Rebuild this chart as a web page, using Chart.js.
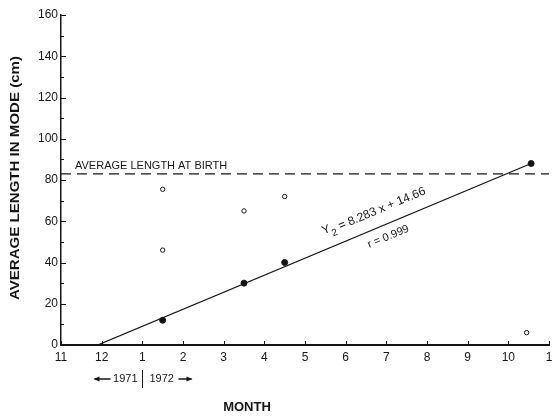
<!DOCTYPE html>
<html>
<head>
<meta charset="utf-8">
<script src="https://cdn.jsdelivr.net/npm/chart.js@4/dist/chart.umd.min.js"></script>
<style>
  html, body { margin: 0; padding: 0; background: #fff; }
  #wrap { width: 554px; height: 416px; }
</style>
</head>
<body>
<div id="wrap"><canvas id="growth-chart" width="554" height="416"></canvas></div>
<script>
// Month axis: 0 = start of November 1971, one unit per month
const monthLabels = ['11', '12', '1', '2', '3', '4', '5', '6', '7', '8', '9', '10', '1'];
const yTicks = [0, 20, 40, 60, 80, 100, 120, 140, 160];

// Modal lengths (cm)
const closedX = [2.5, 4.5, 5.5, 11.56];
const closedY = [12, 30, 40, 88];
const openX = [2.5, 2.5, 4.5, 5.5, 11.45];
const openY = [75.5, 46, 65, 72, 6];

// Fitted line Y2 = 8.283 x + 14.66, drawn between its visible ends
const fitX = [0.9, 11.56];
const fitY = [0, 88];

const birthLength = 83;

const INK = '#151515';
const FONT = '"Liberation Sans", Arial, sans-serif';

const toPoints = (xs, ys) => xs.map((x, i) => ({ x: x, y: ys[i] }));

// Draws inward tick marks, the labels along the fit and the year marker
const decorations = {
    id: 'decorations',
    afterDraw(chart) {
        const ctx = chart.ctx;
        const xs = chart.scales.x;
        const ys = chart.scales.y;
        const area = chart.chartArea;
        ctx.save();
        ctx.strokeStyle = INK;
        ctx.fillStyle = INK;
        ctx.lineWidth = 1;

        // y ticks pointing into the plot, minor every 10
        for (let v = 0; v <= 160; v += 10) {
            const py = Math.round(ys.getPixelForValue(v)) + 0.5;
            const len = v % 20 === 0 ? 5 : 3;
            ctx.beginPath();
            ctx.moveTo(area.left, py);
            ctx.lineTo(area.left + len, py);
            ctx.stroke();
        }
        // x ticks pointing up
        for (let m = 0; m <= 12; m++) {
            const px = Math.round(xs.getPixelForValue(m)) + 0.5;
            ctx.beginPath();
            ctx.moveTo(px, area.bottom);
            ctx.lineTo(px, area.bottom - 4);
            ctx.stroke();
        }

        // birth length caption
        ctx.font = '11px ' + FONT;
        ctx.textAlign = 'left';
        ctx.textBaseline = 'alphabetic';
        ctx.fillText('AVERAGE LENGTH AT BIRTH', area.left + 14, ys.getPixelForValue(birthLength) - 5);

        // equation text along the fitted line
        const x0 = xs.getPixelForValue(fitX[0]), y0 = ys.getPixelForValue(fitY[0]);
        const x1 = xs.getPixelForValue(fitX[1]), y1 = ys.getPixelForValue(fitY[1]);
        const angle = Math.atan2(y1 - y0, x1 - x0);

        ctx.save();
        ctx.translate(xs.getPixelForValue(7.7), ys.getPixelForValue(64.5));
        ctx.rotate(angle);
        ctx.font = '12px ' + FONT;
        ctx.textBaseline = 'middle';
        const main = ' = 8.283 x + 14.66';
        const wY = ctx.measureText('Y').width;
        ctx.font = '10px ' + FONT;
        const w2 = ctx.measureText('2').width;
        ctx.font = '12px ' + FONT;
        const wMain = ctx.measureText(main).width;
        let sx = -(wY + w2 + wMain) / 2;
        ctx.textAlign = 'left';
        ctx.fillText('Y', sx, -2);
        ctx.font = '10px ' + FONT;
        ctx.fillText('2', sx + wY, 4);
        ctx.font = '12px ' + FONT;
        ctx.fillText(main, sx + wY + w2, 0);
        ctx.restore();

        ctx.save();
        ctx.translate(xs.getPixelForValue(8.05), ys.getPixelForValue(52.5));
        ctx.rotate(angle);
        ctx.font = '11px ' + FONT;
        ctx.textAlign = 'center';
        ctx.textBaseline = 'middle';
        ctx.fillText('r = 0.999', 0, 0);
        ctx.restore();

        // year marker under the axis: <- 1971 | 1972 ->
        const jan = Math.round(xs.getPixelForValue(2)) + 0.5;
        const yy = area.bottom + 34;
        ctx.font = '11px ' + FONT;
        ctx.textBaseline = 'middle';
        ctx.textAlign = 'right';
        ctx.fillText('1971', jan - 5, yy);
        ctx.textAlign = 'left';
        ctx.fillText('1972', jan + 7, yy);
        ctx.beginPath();
        ctx.moveTo(jan, yy - 9);
        ctx.lineTo(jan, yy + 9);
        ctx.stroke();
        // arrows
        ctx.lineWidth = 1.5;
        ctx.beginPath();
        ctx.moveTo(jan - 48, yy); ctx.lineTo(jan - 32, yy);
        ctx.moveTo(jan + 36, yy); ctx.lineTo(jan + 49, yy);
        ctx.stroke();
        ctx.beginPath();
        ctx.moveTo(jan - 49, yy); ctx.lineTo(jan - 43, yy - 2.5); ctx.lineTo(jan - 43, yy + 2.5); ctx.closePath();
        ctx.moveTo(jan + 50, yy); ctx.lineTo(jan + 44, yy - 2.5); ctx.lineTo(jan + 44, yy + 2.5); ctx.closePath();
        ctx.fill();

        // axis titles
        ctx.font = 'bold 13px ' + FONT;
        ctx.textAlign = 'center';
        ctx.textBaseline = 'middle';
        ctx.fillText('MONTH', 247, 407);
        ctx.save();
        ctx.translate(15, 178);
        ctx.rotate(-Math.PI / 2);
        const yTitle = 'AVERAGE LENGTH IN MODE (cm)';
        const tw = ctx.measureText(yTitle).width;
        ctx.scale(244 / tw, 1);
        ctx.fillText(yTitle, 0, 0);
        ctx.restore();

        ctx.restore();
    }
};

const ctx = document.getElementById('growth-chart').getContext('2d');

new Chart(ctx, {
    type: 'scatter',
    data: {
        datasets: [
            {
                // regression line
                type: 'line',
                data: toPoints(fitX, fitY),
                borderColor: INK,
                borderWidth: 1.3,
                pointRadius: 0,
                fill: false,
                tension: 0
            },
            {
                // average length at birth, dashed across the plot
                type: 'line',
                data: [{ x: 0, y: birthLength }, { x: 12, y: birthLength }],
                borderColor: INK,
                borderWidth: 1.2,
                borderDash: [10, 6],
                pointRadius: 0,
                fill: false
            },
            {
                data: toPoints(closedX, closedY),
                pointRadius: 3,
                pointBackgroundColor: INK,
                pointBorderColor: INK,
                pointBorderWidth: 1
            },
            {
                data: toPoints(openX, openY),
                pointRadius: 2.2,
                pointBackgroundColor: '#fff',
                pointBorderColor: INK,
                pointBorderWidth: 1
            }
        ]
    },
    options: {
        responsive: false,
        animation: false,
        layout: { padding: { top: 15, right: -3, left: 0, bottom: 0 } },
        plugins: {
            legend: { display: false },
            tooltip: { enabled: false }
        },
        scales: {
            x: {
                type: 'linear',
                min: 0,
                max: 12,
                afterFit: (scale) => {
                    scale.height = 71;
                    scale.paddingRight = 0;
                    scale.paddingLeft = 0;
                },
                afterBuildTicks: (scale) => {
                    scale.ticks = monthLabels.map((_, i) => ({ value: i }));
                },
                ticks: {
                    color: INK,
                    font: { family: FONT, size: 12 },
                    padding: 5,
                    maxRotation: 0,
                    autoSkip: false,
                    callback: (v) => monthLabels[v]
                },
                grid: { display: false, drawTicks: false },
                border: { display: true, color: INK, width: 2 }
            },
            y: {
                min: 0,
                max: 160,
                afterFit: (scale) => { scale.width = 61; },
                afterBuildTicks: (scale) => {
                    scale.ticks = yTicks.map(v => ({ value: v }));
                },
                ticks: {
                    color: INK,
                    font: { family: FONT, size: 12 },
                    padding: 3
                },
                grid: { display: false, drawTicks: false },
                border: { display: true, color: INK, width: 1.5 }
            }
        }
    },
    plugins: [decorations]
});
</script>
</body>
</html>
